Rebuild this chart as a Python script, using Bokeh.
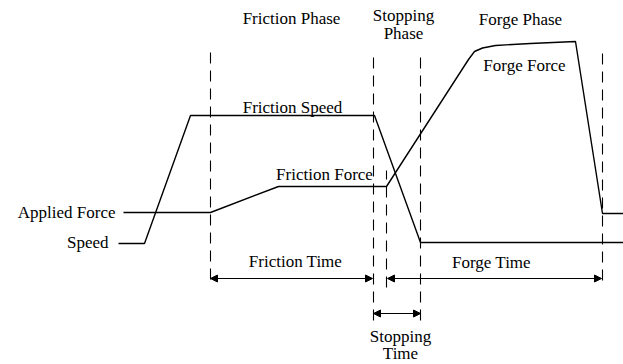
from bokeh.plotting import figure
from bokeh.models import Range1d, ColumnDataSource, Arrow, NormalHead
from bokeh.core.properties import value
from bokeh.embed import file_html
from bokeh.resources import INLINE

# ---- data (arbitrary schematic units: time t, level v) ----
speed_t = [118, 144, 190, 374, 420, 623]
speed_v = [121, 121, 249, 249, 122, 122]

force_t = [123, 210, 278, 386, 468, 474, 482, 495, 530, 575, 602, 623]
force_v = [152, 152, 178, 178, 305, 313, 316.5, 319, 321, 323, 151, 151]

bound_t = [210, 373, 386, 420, 602]
bound_top = [314, 314, 194, 314, 314]
bound_bot = [85, 44, 77, 44, 84]

# interval arrows: (start, end, level)
interval_start = [210, 387, 373]
interval_end = [372, 601, 420]
interval_level = [86, 86, 51]

center_labels = ["Friction Phase", "Stopping", "Phase", "Forge Phase",
                 "Friction Speed", "Friction Force", "Forge Force",
                 "Friction Time", "Forge Time", "Stopping", "Time"]
center_x = [291, 403, 403, 520, 292, 324, 524, 295, 491, 400, 400]
center_y = [346, 349, 331, 345, 257, 190, 299, 103, 102, 28, 11]

right_labels = ["Applied Force", "Speed"]
right_x = [115, 108]
right_y = [152, 122]

FONT = "Liberation Serif"
FS = "17px"

p = figure(width=623, height=364, output_backend="svg", toolbar_location=None,
           x_range=Range1d(0, 623), y_range=Range1d(0, 364), min_border=0)
p.axis.visible = False
p.grid.visible = False
p.outline_line_color = None
p.background_fill_color = "white"
p.border_fill_color = "white"

p.line(speed_t, speed_v, line_color="black", line_width=1.4)
p.line(force_t, force_v, line_color="black", line_width=1.4)

p.segment(x0=bound_t, y0=bound_bot, x1=bound_t, y1=bound_top,
          line_color="black", line_width=1.1, line_dash="11 7")

for s, e, lv in zip(interval_start, interval_end, interval_level):
    p.add_layout(Arrow(x_start=s, y_start=lv, x_end=e, y_end=lv,
                       line_color="black", line_width=1.2,
                       start=NormalHead(size=7, fill_color="black", line_color="black"),
                       end=NormalHead(size=7, fill_color="black", line_color="black")))

src_c = ColumnDataSource(dict(x=center_x, y=center_y, t=center_labels))
p.text(x="x", y="y", text="t", source=src_c, text_font=value(FONT),
       text_font_size=FS, text_align="center", text_baseline="alphabetic",
       text_color="black")

src_r = ColumnDataSource(dict(x=right_x, y=right_y, t=right_labels))
p.text(x="x", y="y", text="t", source=src_r, text_font=value(FONT),
       text_font_size=FS, text_align="right", text_baseline="alphabetic",
       text_color="black")

open("out.html", "w").write(file_html(p, INLINE))
